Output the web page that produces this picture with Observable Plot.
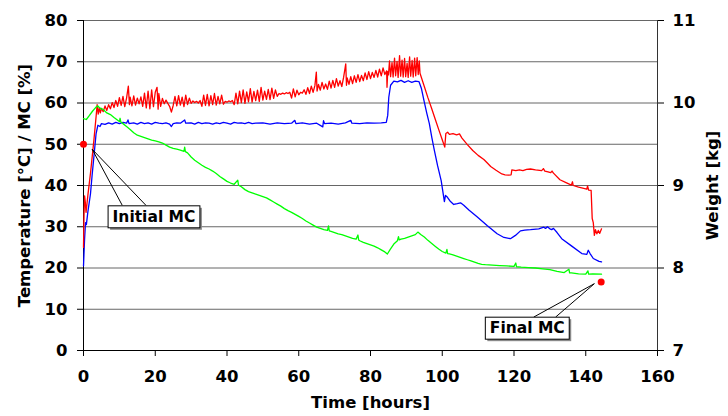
<!DOCTYPE html>
<html>
<head>
<meta charset="utf-8">
<script src="https://cdn.jsdelivr.net/npm/d3@7"></script>
<script src="https://cdn.jsdelivr.net/npm/@observablehq/plot@0.6"></script>
<style>
  html, body { margin: 0; padding: 0; background: #fff; }
  svg { display: block; }
</style>
</head>
<body>
<script>
// Kiln run: air temperature (red), wood temperature (blue) and load weight (green)
const timeTicks = [0, 20, 40, 60, 80, 100, 120, 140, 160];
const tempTicks = [0, 10, 20, 30, 40, 50, 60, 70, 80];
const weightTicks = [7, 8, 9, 10, 11];

// [hours, °C]
const airTemp = [
  [0,25],[0.15,33],[0.3,37.5],[0.5,36],[0.7,33.5],[0.9,35],[1.2,37.5],[1.95,43],[2.9,51],[3.5,56.6],[3.8,59.6],
  [4.1,57.3],[4.4,58.8],[4.7,57.6],[5,58.7],[5.5,57.9],[6,59.3],[6.5,58.2],[7,59.6],[7.5,58.6],[8,60.1],
  [8.5,58.9],[9,60.6],[9.5,59.2],[10,61.3],[10.5,59.4],[11,61.6],[11.5,59.1],[12,61.2],[12.5,64.1],[12.8,59.6],
  [13,61.4],[13.5,59.3],[14,61.7],[14.5,59.5],[15,61.2],[15.5,59.8],[16,61.5],[16.5,59.2],[17,62.4],[17.5,58.8],
  [18,62.9],[18.5,58.6],[19,63.2],[19.5,59.1],[20,62.6],[20.5,63.8],[20.8,58.5],[21,62.3],[21.5,59.2],[22,61.1],
  [22.5,59.8],[23,60.7],[23.5,59.9],[24,59.2],[24.5,57.8],[25,59.4],[25.5,61.6],[26,59.3],[26.5,61.8],[27,59.5],
  [27.5,61.4],[28,59.1],[28.5,61.9],[29,59.6],[29.5,61.2],[30,59.9],[30.5,60.5],[31,60.1],[31.5,60.4],[32,60],
  [32.5,60.6],[33,59.2],[33.5,61.9],[34,59.4],[34.5,62.1],[35,59.3],[35.5,61.8],[36,59.6],[36.5,62.3],[37,59.5],
  [37.5,61.6],[38,59.8],[38.5,61.9],[39,59.7],[39.5,60.4],[40,60.2],[40.5,60.5],[41,60.3],[41.5,60.6],[42,59.6],
  [42.5,62.4],[43,59.8],[43.5,62.9],[44,60.1],[44.5,63.2],[45,59.9],[45.5,62.7],[46,60.3],[46.5,63.5],[47,60.2],
  [47.5,62.8],[48,60.6],[48.5,63.1],[49,60.4],[49.5,63.8],[50,60.7],[50.5,62.9],[51,60.9],[51.5,63.3],[52,60.8],
  [52.5,63.6],[53,61.1],[53.5,63.2],[54,61.6],[54.5,62.3],[55,62.1],[55.5,62.4],[56,62.2],[56.5,62.5],[57,62.3],
  [57.5,62.6],[58,61.2],[58.5,63.4],[59,61.5],[59.5,63.1],[60,62],[60.5,62.6],[61,62.4],[61.5,63.2],[62,62.1],
  [62.5,63.7],[63,62.3],[63.5,64.1],[64,62.6],[64.5,64.2],[64.9,67.5],[65.1,62.9],[65.5,64.5],[66,63.1],[66.5,65],
  [67,63.4],[67.5,64.6],[68,63.3],[68.5,65.3],[69,63.6],[69.5,65.5],[70,63.8],[70.5,65.9],[71,64.1],[71.5,65.4],
  [72,64],[72.5,66.2],[73.1,69.5],[73.3,64.3],[73.5,66.1],[74,64.5],[74.5,66.4],[75,64.7],[75.5,66.6],[76,65],
  [76.5,66.9],[77,65.2],[77.5,66.7],[78,65.4],[78.5,67.3],[79,65.7],[79.5,67.6],[80,65.9],[80.5,67.4],[81,66.2],
  [81.5,67.9],[82,66.3],[82.5,68.2],[83,66.6],[83.5,68.5],[84,66.9],[84.5,67.8],[84.6,63.8],[84.8,67.6],[85,66.8],
  [85.3,70.2],[85.6,66.4],[86,69.8],[86.3,66.3],[86.7,70.9],[87,66.6],[87.4,70.1],[87.7,66.2],[88.1,71.5],[88.4,66.5],
  [88.8,70.4],[89.1,66.3],[89.5,70.8],[89.8,66.4],[90.2,69.6],[90.5,66.2],[90.9,71.2],[91.2,66.5],[91.6,70.3],
  [91.9,66.3],[92.3,70.9],[92.6,66.6],[93,71],[93.3,66.9],[93.6,70.2],[93.8,67.2],
  [95,64],[96,61.3],[97,58.8],[98,56.2],[99,53.6],[100,51.1],[100.7,49.3],[101,52.6],[101.5,52.9],[102,52.4],
  [103,52.6],[104,52.3],[104.8,52.5],[105.5,51.5],[107,49.9],[108.5,48.5],[110,47.3],[111.6,46.3],[112.5,45.5],
  [113.5,44.6],[115,43.7],[116.6,42.8],[117.5,42.6],[118.5,42.5],[119.2,42.6],[119.4,43.8],[120.5,43.6],[121.5,43.8],
  [122.5,43.6],[123.5,43.9],[124.6,44],[126,43.8],[127.7,43.6],[128.2,44.1],[128.6,43.5],[129.5,43.3],[130.2,43.1],
  [130.6,43.5],[131,43],[132.8,41.4],[134.5,40.7],[136,40.1],[136.3,40.9],[136.5,40],[138,39.6],[140.3,39.1],
  [140.5,39.9],[140.8,38.9],[141.5,38.8],[141.8,32],[142.1,31],[142.4,27.9],[142.7,29.3],[143.1,28.3],[143.5,29.1],
  [143.9,28.4],[144.4,29.5]
];

// [hours, °C]
const woodTemp = [
  [0,20.5],[0.3,27],[0.56,31],[0.8,30.5],[1.2,33.5],[1.95,38],[2.4,42.5],[2.9,47],[3.5,52.5],[4,54.6],[4.6,54.3],
  [5,55],[6,54.8],[7,55.2],[8,54.9],[9,55.3],[10,55],[11,55.3],[12,55.1],[12.4,55.9],[12.7,55],[14,55.2],[15,54.9],
  [16,55.3],[17,55],[18,55.2],[19,54.9],[20,55.3],[21,55.1],[22,55],[23,55.2],[24,54.9],[24.5,54.3],[25,55],[26,55.2],
  [27,55.1],[28.2,55.9],[28.5,55.1],[30,55.2],[31,54.9],[32,55.3],[33,55],[34,55.2],[35,55.1],[36,54.9],[37,55.2],
  [38,55],[39,55.3],[40,55.1],[41,54.9],[42,55.3],[43,55.1],[44,55.2],[45,55],[46,55.3],[47,55],[48,55.1],[50,55.2],
  [52,54.9],[54,55.2],[56,55],[58,55.1],[58.9,55.8],[59.2,55],[61,55.2],[63,54.9],[65,55.1],[66.7,54.2],[66.9,55.7],
  [67.2,55],[69,55.1],[71,54.9],[73,55.2],[74.5,55.8],[74.8,55.1],[77,55],[79,55.2],[81,55.1],[83,55.2],[84.4,55.3],
  [84.8,57],[85.1,61.4],[85.6,64.3],[86.5,65.3],[87.5,65.1],[88.5,65.5],[89.5,65],[90.5,65.4],[91.5,65],[92.5,65.3],
  [93.5,65.2],[94.2,63.5],[95,60.2],[95.7,57.5],[96.4,55],[97.1,51.6],[97.8,48.5],[98.7,44.8],[99.7,41.2],[100.6,36.1],
  [100.9,37.6],[101.4,37.2],[102.3,36.1],[103.2,35.4],[104.2,35.6],[105.1,35.8],[106,35.2],[107.5,34],[109.7,32.4],
  [112.5,30.3],[115.3,28.3],[117.2,27.4],[119,27.1],[120.4,27.9],[121.8,29],[123,29.2],[124.6,29.3],[126.9,29.5],
  [128.3,29.9],[128.8,29.6],[129.3,30],[130,29.5],[130.5,29.3],[131,29.6],[132,28.6],[133.3,27.1],[136.1,25.3],
  [138.9,23.5],[140.3,23.3],[140.7,24.3],[141.2,23.5],[142.1,22.3],[143.7,21.6],[144.4,21.5]
];

// [hours, kg] — read on the right-hand axis
const loadWeight = [
  [0,9.81],[0.8,9.8],[1.5,9.84],[2.5,9.9],[3.5,9.95],[4,9.965],[4.5,9.94],[5.5,9.92],[6.5,9.88],[7.5,9.86],
  [8.5,9.825],[10,9.775],[10.2,9.815],[10.4,9.77],[11,9.75],[12,9.715],[13,9.68],[14,9.64],[15,9.61],[16,9.595],
  [17,9.58],[18,9.565],[19,9.55],[20,9.54],[21,9.53],[22,9.515],[23,9.49],[24,9.465],[25,9.45],[26,9.44],[27,9.43],
  [28,9.415],[28.2,9.465],[28.4,9.41],[29,9.395],[30,9.345],[31,9.305],[32,9.275],[33,9.245],[34,9.22],[35,9.2],
  [36,9.175],[37,9.145],[38,9.11],[39,9.08],[40,9.05],[41,9.03],[42,9.015],[43,9.065],[43.2,9.005],[44,8.985],
  [45,8.95],[46,8.925],[47,8.91],[48,8.895],[49,8.88],[50,8.865],[51,8.85],[52,8.825],[53,8.8],[54,8.775],[55,8.75],
  [56,8.72],[57,8.695],[58,8.675],[59,8.65],[60,8.625],[61,8.6],[62,8.57],[63,8.545],[64,8.52],[65,8.495],[66,8.48],
  [67,8.465],[68,8.455],[68.3,8.51],[68.5,8.45],[69,8.445],[70,8.43],[71,8.415],[72,8.405],[73,8.39],[74,8.375],
  [75,8.36],[76,8.35],[76.5,8.4],[76.7,8.34],[77,8.33],[78,8.31],[79,8.295],[80,8.28],[81,8.265],[82,8.245],[83,8.22],
  [84,8.195],[84.7,8.17],[85.5,8.225],[86.5,8.29],[87.5,8.33],[87.8,8.38],[88,8.34],[88.5,8.35],[89.5,8.36],
  [90.5,8.375],[91.5,8.39],[92.5,8.405],[93.2,8.435],[94,8.405],[95,8.375],[96,8.335],[97,8.3],[98,8.265],[99,8.23],
  [100,8.2],[101,8.18],[101.3,8.225],[101.5,8.175],[102,8.17],[103,8.16],[104,8.145],[105,8.13],[106,8.115],[107,8.1],
  [108,8.085],[109,8.07],[110,8.055],[111,8.045],[112,8.04],[114,8.035],[116,8.03],[118,8.025],[120,8.02],
  [120.5,8.06],[120.7,8.015],[122,8.01],[124,8.005],[126,8],[128,7.99],[130,7.98],[132,7.96],[134,7.945],
  [135.3,7.985],[135.5,7.94],[136,7.94],[138,7.93],[140,7.925],[140.6,7.965],[140.8,7.925],[142,7.93],[144.4,7.925]
];

// Moisture content samples [hours, %]
const mcSamples = [[0, 50], [144.3, 16.6]];

// Callouts: label, label centre, point the legs lead to, leg ends on the box
const calloutText = ["Initial MC", "Final MC"];
const calloutAt = [[19.65, 32.4], [123.7, 5.4]];
const calloutTarget = [[2.4, 48.8], [142.4, 16.2]];
const calloutLegEnds = [[[10.8, 35.2], [17.4, 35.2]], [[125.5, 8.1], [131.6, 8.1]]];

// the weight axis (7–11 kg) shares the frame with the 0–80 axis
const kgToLeft = kg => (kg - 7) * 20;
const leftToKg = v => 7 + v / 20;

const legs = calloutLegEnds.flatMap((ends, i) =>
  ends.map(([x2, y2]) => ({x1: calloutTarget[i][0], y1: calloutTarget[i][1], x2, y2})));
const labels = calloutText.map((text, i) => ({text, x: calloutAt[i][0], y: calloutAt[i][1]}));

const font = "DejaVu Sans";
const chart = Plot.plot({
  width: 728,
  height: 416,
  marginLeft: 83,
  marginRight: 71,
  marginTop: 20,
  marginBottom: 66,
  style: {fontFamily: font, fontWeight: "bold", fontSize: "16px", color: "#000", background: "#fff"},
  x: {domain: [0, 160]},
  y: {domain: [0, 80]},
  marks: [
    Plot.ruleY(tempTicks.filter(d => d > 0), {stroke: "#000", strokeOpacity: 0.6}),
    Plot.axisY({ticks: tempTicks, tickSize: 6, tickPadding: 10, label: null, fontSize: 16.5}),
    Plot.axisY({anchor: "right", ticks: weightTicks.map(kgToLeft), tickFormat: leftToKg,
      tickSize: 6, tickPadding: 9, label: null, fontSize: 16.5}),
    Plot.axisX({ticks: timeTicks, tickSize: 6, tickPadding: 14, label: null, fontSize: 16.5}),
    Plot.ruleX([0], {stroke: "#000"}),
    Plot.ruleX([160], {stroke: "#333"}),
    Plot.ruleY([0], {stroke: "#000"}),
    Plot.text(["Temperature [°C] / MC [%]"], {frameAnchor: "left", textAnchor: "middle", rotate: -90, dx: -59,
      fontSize: 16.5, fontWeight: "bold"}),
    Plot.text(["Weight [kg]"], {frameAnchor: "right", textAnchor: "middle", rotate: -90, dx: 55,
      fontSize: 16.5, fontWeight: "bold"}),
    Plot.text(["Time [hours]"], {frameAnchor: "bottom", dy: 57, fontSize: 16.5, fontWeight: "bold"}),
    Plot.line(woodTemp, {x: "0", y: "1", stroke: "#0000ff", strokeWidth: 1.3}),
    Plot.line(airTemp, {x: "0", y: "1", stroke: "#ff0000", strokeWidth: 1.3}),
    Plot.line(loadWeight, {x: "0", y: d => kgToLeft(d[1]), stroke: "#00ff00", strokeWidth: 1.3}),
    Plot.dot(mcSamples, {x: "0", y: "1", r: 3.5, fill: "#ff0000", stroke: "none"}),
    Plot.link(legs, {x1: "x1", y1: "y1", x2: "x2", y2: "y2", stroke: "#000", strokeWidth: 1}),
    Plot.text(labels, {x: "x", y: "y", text: "text", fontSize: 15.5, fontWeight: "bold"})
  ]
});
document.body.appendChild(chart);

// frame each callout label in a white box with a small drop shadow
const SVGNS = "http://www.w3.org/2000/svg";
chart.querySelectorAll("text").forEach(node => {
  if (!calloutText.includes(node.textContent.trim())) return;
  const b = node.getBBox();
  const t = node.getAttribute("transform");
  const padX = 4.5, padY = 2;
  const shadow = document.createElementNS(SVGNS, "rect");
  const box = document.createElementNS(SVGNS, "rect");
  for (const [el, off] of [[shadow, 2], [box, 0]]) {
    if (t) el.setAttribute("transform", t);
    el.setAttribute("x", b.x - padX + off);
    el.setAttribute("y", b.y - padY + off);
    el.setAttribute("width", b.width + 2 * padX);
    el.setAttribute("height", b.height + 2 * padY);
    node.parentNode.insertBefore(el, node);
  }
  shadow.setAttribute("fill", "#8a8a8a");
  box.setAttribute("fill", "#fff");
  box.setAttribute("stroke", "#000");
  box.setAttribute("stroke-width", 1);
});
</script>
</body>
</html>
